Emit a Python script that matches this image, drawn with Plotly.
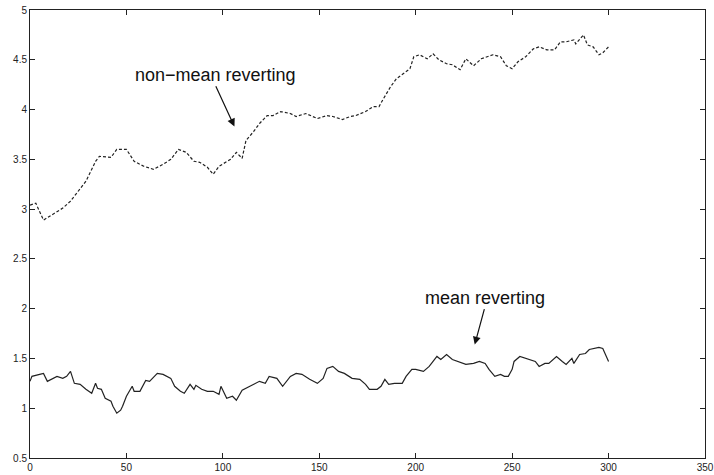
import plotly.graph_objects as go

# Non-mean-reverting series (dotted)
nmr_t = [0, 3, 7, 12, 17, 21, 26, 29, 34, 36, 42, 45, 50, 54, 59, 64, 69, 73, 77, 81,
         85, 88, 92, 95, 98, 104, 107, 110, 112, 116, 119, 123, 126, 130, 135, 138, 143,
         149, 154, 157, 162, 166, 169, 174, 178, 181, 183, 187, 190, 193, 197, 199, 202,
         206, 209, 212, 216, 219, 223, 226, 230, 234, 240, 244, 247, 250, 253, 257, 261,
         264, 268, 272, 275, 278, 282, 283, 287, 289, 292, 295, 297, 300]
nmr_v = [3.04, 3.06, 2.89, 2.95, 3.01, 3.08, 3.20, 3.28, 3.48, 3.53, 3.52, 3.60, 3.60,
         3.48, 3.43, 3.40, 3.45, 3.50, 3.60, 3.57, 3.48, 3.47, 3.42, 3.35, 3.43, 3.50,
         3.57, 3.51, 3.69, 3.78, 3.86, 3.94, 3.94, 3.98, 3.96, 3.93, 3.96, 3.91, 3.94,
         3.93, 3.90, 3.93, 3.94, 3.98, 4.03, 4.03, 4.10, 4.23, 4.31, 4.35, 4.41, 4.53,
         4.55, 4.51, 4.56, 4.50, 4.46, 4.45, 4.40, 4.51, 4.44, 4.51, 4.55, 4.53, 4.44,
         4.41, 4.48, 4.53, 4.61, 4.63, 4.60, 4.60, 4.68, 4.68, 4.70, 4.66, 4.75, 4.65,
         4.63, 4.55, 4.57, 4.63]

# Mean-reverting series (solid)
mr_t = [0, 1, 5, 7, 9, 12, 14, 17, 19, 21, 23, 26, 29, 32, 34, 35, 37, 39, 42, 43, 45,
        47, 48, 50, 53, 54, 57, 60, 62, 66, 69, 73, 75, 78, 80, 83, 85, 86, 89, 92, 95,
        98, 99, 102, 105, 107, 110, 114, 117, 119, 122, 124, 128, 131, 135, 138, 141,
        145, 149, 152, 154, 157, 160, 163, 167, 171, 174, 176, 180, 182, 184, 186, 189,
        193, 195, 198, 200, 204, 207, 211, 213, 216, 219, 223, 226, 230, 233, 236, 238,
        241, 244, 246, 248, 250, 251, 254, 257, 259, 262, 264, 267, 269, 273, 276, 278,
        281, 282, 285, 288, 290, 293, 295, 297, 299, 300]
mr_v = [1.27, 1.32, 1.34, 1.35, 1.27, 1.30, 1.32, 1.30, 1.32, 1.37, 1.25, 1.24, 1.19,
        1.15, 1.25, 1.20, 1.19, 1.10, 1.07, 1.02, 0.95, 0.98, 1.02, 1.12, 1.22, 1.17,
        1.17, 1.28, 1.27, 1.35, 1.34, 1.30, 1.22, 1.17, 1.15, 1.24, 1.19, 1.23, 1.19,
        1.17, 1.17, 1.14, 1.22, 1.10, 1.12, 1.08, 1.18, 1.22, 1.25, 1.27, 1.25, 1.32,
        1.30, 1.22, 1.32, 1.35, 1.34, 1.29, 1.25, 1.30, 1.40, 1.42, 1.37, 1.35, 1.30,
        1.29, 1.24, 1.19, 1.19, 1.22, 1.29, 1.24, 1.25, 1.25, 1.32, 1.39, 1.39, 1.37,
        1.42, 1.52, 1.49, 1.54, 1.49, 1.46, 1.44, 1.45, 1.47, 1.45, 1.39, 1.32, 1.34,
        1.32, 1.32, 1.39, 1.47, 1.52, 1.50, 1.49, 1.47, 1.42, 1.45, 1.45, 1.52, 1.47,
        1.44, 1.50, 1.45, 1.54, 1.55, 1.59, 1.60, 1.61, 1.60, 1.52, 1.47]

x_ticks = [0, 50, 100, 150, 200, 250, 300, 350]
y_ticks = [0.5, 1, 1.5, 2, 2.5, 3, 3.5, 4, 4.5, 5]

fig = go.Figure()
fig.add_trace(go.Scatter(x=nmr_t, y=nmr_v, mode="lines",
                         line=dict(color="#222", width=1.2, dash="3px,2px"),
                         showlegend=False))
fig.add_trace(go.Scatter(x=mr_t, y=mr_v, mode="lines",
                         line=dict(color="#222", width=1.2),
                         showlegend=False))

label_font = dict(family="Liberation Sans, Arial, sans-serif", size=18, color="#111")
fig.add_annotation(x=106, y=3.83, ax=96, ay=4.25, xref="x", yref="y",
                   axref="x", ayref="y", showarrow=True, arrowhead=2,
                   arrowsize=1.3, arrowwidth=1.2, arrowcolor="#111", text="")
fig.add_annotation(x=96, y=4.35, text="non\u2212mean reverting", showarrow=False,
                   font=label_font)
fig.add_annotation(x=230.6, y=1.64, ax=235.8, ay=2.01, xref="x", yref="y",
                   axref="x", ayref="y", showarrow=True, arrowhead=2,
                   arrowsize=1.3, arrowwidth=1.2, arrowcolor="#111", text="")
fig.add_annotation(x=236, y=2.11, text="mean reverting", showarrow=False,
                   font=label_font)

axis_common = dict(showgrid=False, zeroline=False, showline=True, linecolor="#222",
                   linewidth=1, mirror="ticks", ticks="inside", ticklen=5,
                   tickcolor="#222", automargin=False,
                   tickfont=dict(family="Liberation Sans, Arial", size=10, color="#222"))
fig.update_xaxes(range=[0, 350], tickvals=x_ticks,
                 ticktext=[str(v) for v in x_ticks], **axis_common)
fig.update_yaxes(range=[0.5, 5], tickvals=y_ticks,
                 ticktext=[f"{v:g}" for v in y_ticks], **axis_common)

fig.update_layout(width=714, height=475, margin=dict(l=30, r=9, t=10, b=17),
                  plot_bgcolor="white", paper_bgcolor="white")

fig.write_html("out.html")
